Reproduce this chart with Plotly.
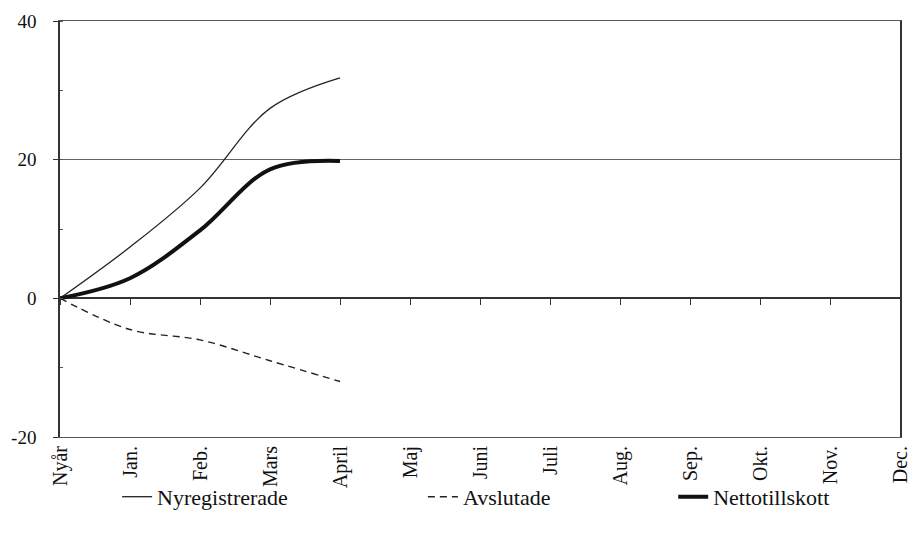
import plotly.graph_objects as go

months = ["Nyår", "Jan.", "Feb.", "Mars", "April", "Maj", "Juni", "Juli",
          "Aug.", "Sep.", "Okt.", "Nov.", "Dec."]
nyreg = [0, 7.4, 15.9, 27.4, 31.8]
avslutade = [0, -4.5, -6.0, -9.0, -12.0]
netto = [0, 2.9, 9.8, 18.6, 19.8]
y_ticks = [-20, 0, 20, 40]
y_labels = ["-20", "0", "20", "40"]

FONT = "Liberation Serif"
x_idx = list(range(len(nyreg)))

fig = go.Figure()
fig.add_trace(go.Scatter(x=x_idx, y=nyreg, name="Nyregistrerade", mode="lines",
                         legend="legend",
                         line=dict(color="#222", width=1.3, shape="spline")))
fig.add_trace(go.Scatter(x=x_idx, y=avslutade, name="Avslutade", mode="lines",
                         legend="legend2",
                         line=dict(color="#222", width=1.4, dash="7px,5px", shape="spline")))
fig.add_trace(go.Scatter(x=x_idx, y=netto, name="Nettotillskott", mode="lines",
                         legend="legend3",
                         line=dict(color="#111", width=4, shape="spline")))

leg_common = dict(orientation="h", y=-0.144, yanchor="middle", xanchor="left",
                  font=dict(family=FONT, size=22), bgcolor="rgba(0,0,0,0)")

fig.update_layout(
    width=912, height=535,
    margin=dict(l=60, r=12, t=21, b=98, autoexpand=False),
    paper_bgcolor="white", plot_bgcolor="white",
    font=dict(family=FONT, color="#111", size=18),
    showlegend=True,
    legend=dict(x=0.068, **leg_common),
    legend2=dict(x=0.432, **leg_common),
    legend3=dict(x=0.730, **leg_common),
    xaxis=dict(range=[0, 12], tickvals=list(range(len(months))), ticktext=months,
               tickangle=-90, showgrid=False, zeroline=False, automargin=False,
               showline=True, linecolor="#555", linewidth=1, mirror=True,
               ticks="", tickfont=dict(family=FONT, size=20)),
    xaxis2=dict(range=[0, 12], tickvals=list(range(len(months))), overlaying="x",
                anchor="free", position=1/3, side="bottom", showticklabels=False,
                ticks="outside", ticklen=6, tickwidth=1.3, tickcolor="#333", showline=False,
                showgrid=False, zeroline=False, automargin=False),
    yaxis=dict(range=[-20, 40], tickvals=y_ticks, ticktext=y_labels, showgrid=True,
               gridcolor="#666", automargin=False,
               gridwidth=1, zeroline=True, zerolinecolor="#333", zerolinewidth=1.5,
               showline=True, linecolor="#333", linewidth=1.5, mirror=True,
               ticks="outside", ticklen=5, tickcolor="#333", ticklabelstandoff=13,
               minor=dict(dtick=10, ticks="inside", ticklen=3, tickcolor="#555", showgrid=False),
               tickfont=dict(family=FONT, size=19)),
)
# invisible trace to activate xaxis2
fig.add_trace(go.Scatter(x=[0], y=[0], xaxis="x2", mode="lines", showlegend=False,
                         hoverinfo="skip", line=dict(width=0)))

fig.write_html("out.html", config={"displayModeBar": False},
               post_script="document.body.style.margin='0';")
